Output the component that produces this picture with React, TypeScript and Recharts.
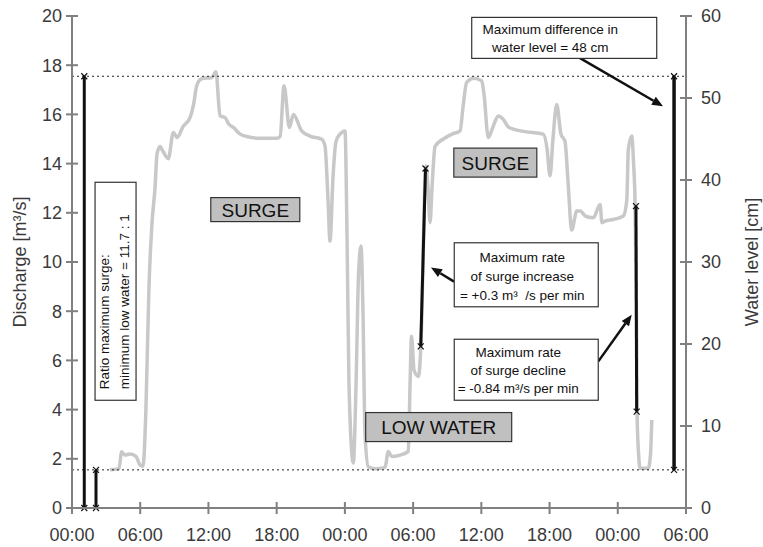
import React from 'react';
import { ComposedChart, Line, XAxis, YAxis, ReferenceLine, ReferenceDot, Label } from 'recharts';

const FONT = '"Liberation Sans", Arial, sans-serif';
const AXIS_GREY = '#808080';
const TEXT_GREY = '#3a3a3a';
const FLOW_GREY = '#c8c8c8';

// time axis in hours since the first midnight
const hourTicks = [0, 6, 12, 18, 24, 30, 36, 42, 48, 54];
const clockLabels = ['00:00', '06:00', '12:00', '18:00', '00:00', '06:00', '12:00', '18:00', '00:00', '06:00'];
const dischargeTicks = [0, 2, 4, 6, 8, 10, 12, 14, 16, 18, 20];
const levelTicks = [0, 10, 20, 30, 40, 50, 60];

// discharge record [m3/s]
const hours = [
  3.34, 4.13, 4.37, 4.66, 5.1, 5.63, 5.98, 6.24, 6.5, 6.77, 7.04, 7.3, 7.48, 7.74, 8.0, 8.47, 8.91, 9.26,
  9.76, 10.38, 10.73, 10.96, 11.4, 12.29, 12.66, 13.02, 13.46, 13.8, 14.19, 14.78, 15.36, 16.53, 18.0,
  18.3, 18.65, 19.12, 19.47, 20.2, 20.93, 21.96, 22.25, 22.52, 22.69, 22.96, 23.22, 23.57, 24.01, 24.19,
  24.36, 24.74, 24.98, 25.2, 25.42, 25.59, 25.77, 26.06, 26.65, 27.53, 27.82, 28.12, 28.85, 29.58, 29.73,
  29.86, 30.08, 30.46, 30.75, 30.96, 31.13, 31.31, 31.49, 31.66, 31.93, 32.66, 33.42, 34.13, 34.39, 34.71,
  35.3, 36.03, 36.24, 36.61, 37.03, 37.49, 37.93, 38.35, 38.81, 39.84, 41.45, 41.78, 42.04, 42.3, 42.63,
  43.0, 43.36, 43.62, 43.95, 44.39, 44.68, 45.21, 45.85, 46.44, 46.61, 46.88, 47.61, 48.49, 48.79, 48.93,
  49.23, 49.39, 49.52, 49.65, 49.7, 49.83, 49.96, 50.69, 50.88, 50.99,
];
const discharge = [
  1.55, 1.6, 2.29, 2.15, 2.2, 2.1, 1.75, 1.7, 4.0, 9.0, 11.6, 13.0, 14.4, 14.7, 14.5, 14.2, 15.26, 15.06,
  15.5, 15.87, 16.5, 17.16, 17.45, 17.5, 17.73, 15.94, 15.87, 15.6, 15.47, 15.2, 15.1, 15.03, 15.03,
  15.1, 17.16, 15.47, 16.0, 15.33, 15.12, 14.99, 14.72, 12.5, 10.85, 13.5, 14.9, 15.2, 15.33, 11.0,
  5.0, 1.83, 5.0, 9.5, 10.65, 8.0, 3.0, 1.68, 1.6, 1.65, 2.3, 2.09, 2.15, 2.3, 5.0,
  6.98, 5.6, 5.35, 7.5, 12.0, 13.9, 13.0, 11.6, 13.0, 14.7, 15.0, 15.2, 15.33, 16.3, 17.3,
  17.47, 17.37, 16.8, 15.06, 15.5, 15.94, 15.8, 15.5, 15.4, 15.3, 15.2, 14.6, 13.5, 15.0, 16.4,
  15.2, 14.9, 13.3, 11.3, 12.07, 12.07, 11.85, 11.8, 12.34, 11.6, 11.66, 11.73, 11.87, 12.5, 14.58,
  15.12, 14.0, 12.4, 7.5, 3.8, 2.2, 1.62, 1.62, 2.2, 3.58,
];

const maxSurge = 17.55;
const minLowWater = 1.55;

// water level range, lowest to highest [cm] (difference 48 cm)
const levelSpanHours = [52.95, 52.95];
const levelSpan = [4.65, 52.65];

// measured spans [hour, discharge]: ratio bars, surge rise, surge decline
const spanStart = [[1.08, 0], [2.11, 0], [30.67, 6.57], [49.6, 12.27]];
const spanEnd = [[1.08, maxSurge], [2.11, minLowWater], [31.09, 13.8], [49.66, 3.92]];

// pointers from the notes to the spans
const pointerFrom = [[44.68, 18.29], [33.6, 9.2], [46.29, 5.96]];
const pointerTo = [[51.98, 16.33], [31.57, 9.78], [49.23, 7.86]];

const diffNote = ['Maximum difference in', 'water level = 48 cm'];
const riseNote = ['Maximum rate', 'of surge increase', '= +0.3 m³  /s per min'];
const fallNote = ['Maximum rate', 'of surge decline', '= -0.84 m³/s per min'];
const ratioNote = ['Ratio maximum surge:', 'minimum low water = 11.7 : 1'];

const rows = hours.map((hour, i) => ({ hour, discharge: discharge[i] }));
const levelRows = levelSpanHours.map((hour, i) => ({ hour, level: levelSpan[i] }));

const LeftTick = (p: any) => {
  const ax = p.x + 10;
  return (
    <g>
      <line x1={ax - 6} x2={ax + 6} y1={p.y} y2={p.y} stroke={AXIS_GREY} strokeWidth={2} />
      <text x={p.x} y={p.y} dy="0.36em" textAnchor="end" fill={TEXT_GREY} fontSize={18} fontFamily={FONT}>
        {p.payload.value}
      </text>
    </g>
  );
};

const RightTick = (p: any) => {
  const ax = p.x - 15;
  return (
    <g>
      <line x1={ax - 6} x2={ax + 6} y1={p.y} y2={p.y} stroke={AXIS_GREY} strokeWidth={2} />
      <text x={p.x} y={p.y} dy="0.36em" textAnchor="start" fill={TEXT_GREY} fontSize={18} fontFamily={FONT}>
        {p.payload.value}
      </text>
    </g>
  );
};

const TimeTick = (p: any) => {
  const ay = p.y - 10;
  const label = clockLabels[hourTicks.indexOf(p.payload.value)];
  return (
    <g>
      <line x1={p.x} x2={p.x} y1={ay - 6} y2={ay + 6} stroke={AXIS_GREY} strokeWidth={2} />
      <text x={p.x} y={ay + 33} textAnchor="middle" fill={TEXT_GREY} fontSize={18} fontFamily={FONT}>
        {label}
      </text>
    </g>
  );
};

const axisTitle = (text: string, dx: number) => (props: any) => {
  const vb = props.viewBox || {};
  const cx = vb.x + dx;
  const cy = vb.y + vb.height / 2;
  return (
    <text
      x={cx}
      y={cy}
      dy="0.35em"
      textAnchor="middle"
      transform={`rotate(-90, ${cx}, ${cy})`}
      fill={TEXT_GREY}
      fontSize={18}
      fontFamily={FONT}
    >
      {text}
    </text>
  );
};

const Cross = ({ x, y }: { x: number; y: number }) => (
  <path d={`M${x - 3},${y - 3}L${x + 3},${y + 3}M${x - 3},${y + 3}L${x + 3},${y - 3}`} stroke="#111" strokeWidth={1.2} />
);

const crossDot = (p: any) => <Cross key={p.index} x={p.cx} y={p.cy} />;

const spanShape = (p: any) => (
  <g>
    <line x1={p.x1} y1={p.y1} x2={p.x2} y2={p.y2} stroke="#111" strokeWidth={3} />
    <Cross x={p.x1} y={p.y1} />
    <Cross x={p.x2} y={p.y2} />
  </g>
);

const arrowShape = (p: any) => {
  const a = Math.atan2(p.y2 - p.y1, p.x2 - p.x1);
  const len = 11;
  const half = 4.5;
  const bx = p.x2 - len * Math.cos(a);
  const by = p.y2 - len * Math.sin(a);
  const nx = -Math.sin(a) * half;
  const ny = Math.cos(a) * half;
  return (
    <g>
      <line x1={p.x1} y1={p.y1} x2={bx} y2={by} stroke="#111" strokeWidth={2.5} />
      <path d={`M${p.x2},${p.y2}L${bx + nx},${by + ny}L${bx - nx},${by - ny}Z`} fill="#111" />
    </g>
  );
};

type BoxStyle = {
  w: number;
  h: number;
  size: number;
  fill: string;
  first: number;
  gap: number;
  shift: number;
};

const boxShape = (lines: string[], s: BoxStyle) => (p: any) => {
  const left = p.cx - s.w / 2;
  const top = p.cy - s.h / 2;
  return (
    <g>
      <rect x={left} y={top} width={s.w} height={s.h} fill={s.fill} stroke="#333" strokeWidth={1.2} />
      {lines.map((t, i) => (
        <text
          key={i}
          x={p.cx + s.shift}
          y={top + s.first + i * s.gap}
          textAnchor="middle"
          fill="#111"
          fontSize={s.size}
          fontFamily={FONT}
          style={{ whiteSpace: 'pre' }}
        >
          {t}
        </text>
      ))}
    </g>
  );
};

const ratioShape = (p: any) => {
  const w = 41;
  const h = 218;
  return (
    <g>
      <rect x={p.cx - w / 2} y={p.cy - h / 2} width={w} height={h} fill="#fff" stroke="#333" strokeWidth={1.2} />
      <g transform={`rotate(-90, ${p.cx}, ${p.cy})`}>
        {ratioNote.map((t, i) => (
          <text key={i} x={p.cx - 98} y={p.cy - 7 + i * 20} fill="#111" fontSize={13.5} fontFamily={FONT}>
            {t}
          </text>
        ))}
      </g>
    </g>
  );
};

const tagStyle = { size: 19, fill: '#c0c0c0', gap: 0, shift: 0 };
const noteStyle = { size: 13.5, fill: '#fff' };

export default function App() {
  return (
    <div style={{ position: 'absolute', left: 0, top: 0, width: 763, height: 547, background: '#fff' }}>
      <ComposedChart
        width={763}
        height={547}
        data={rows}
        margin={{ top: 16, right: 0, bottom: 0, left: 0 }}
        style={{ fontFamily: FONT }}
      >
        <XAxis
          type="number"
          dataKey="hour"
          domain={[0, 54]}
          ticks={hourTicks}
          interval={0}
          height={39}
          tickSize={6}
          tickMargin={4}
          tickLine={false}
          axisLine={{ stroke: AXIS_GREY, strokeWidth: 2 }}
          tick={<TimeTick />}
        />
        <YAxis
          yAxisId="q"
          type="number"
          domain={[0, 20]}
          ticks={dischargeTicks}
          interval={0}
          width={72}
          tickSize={6}
          tickMargin={4}
          tickLine={false}
          axisLine={{ stroke: AXIS_GREY, strokeWidth: 2 }}
          tick={<LeftTick />}
        >
          <Label content={axisTitle('Discharge [m³/s]', 20)} />
        </YAxis>
        <YAxis
          yAxisId="wl"
          type="number"
          orientation="right"
          domain={[0, 60]}
          ticks={levelTicks}
          interval={0}
          width={77}
          tickSize={6}
          tickMargin={9}
          tickLine={false}
          axisLine={{ stroke: AXIS_GREY, strokeWidth: 2 }}
          tick={<RightTick />}
        >
          <Label content={axisTitle('Water level [cm]', 66)} />
        </YAxis>

        <Line
          yAxisId="q"
          type="monotoneX"
          dataKey="discharge"
          stroke={FLOW_GREY}
          strokeWidth={3.5}
          dot={false}
          activeDot={false}
          isAnimationActive={false}
        />

        <ReferenceLine yAxisId="q" y={maxSurge} stroke="#222" strokeDasharray="2 3" strokeWidth={1} />
        <ReferenceLine yAxisId="q" y={minLowWater} stroke="#222" strokeDasharray="2 3" strokeWidth={1} />

        <Line
          yAxisId="wl"
          data={levelRows}
          dataKey="level"
          type="linear"
          stroke="#111"
          strokeWidth={3.5}
          dot={crossDot}
          activeDot={false}
          isAnimationActive={false}
        />

        {spanStart.map((s, i) => (
          <ReferenceLine
            key={`span-${i}`}
            yAxisId="q"
            segment={[
              { x: s[0], y: s[1] },
              { x: spanEnd[i][0], y: spanEnd[i][1] },
            ]}
            shape={spanShape}
          />
        ))}

        {pointerFrom.map((s, i) => (
          <ReferenceLine
            key={`ptr-${i}`}
            yAxisId="q"
            segment={[
              { x: s[0], y: s[1] },
              { x: pointerTo[i][0], y: pointerTo[i][1] },
            ]}
            shape={arrowShape}
          />
        ))}

        <ReferenceDot yAxisId="q" x={16.12} y={12.13} shape={boxShape(['SURGE'], { ...tagStyle, w: 89, h: 24, first: 19 })} />
        <ReferenceDot yAxisId="q" x={37.23} y={14.04} shape={boxShape(['SURGE'], { ...tagStyle, w: 83, h: 29, first: 21.5 })} />
        <ReferenceDot yAxisId="q" x={32.25} y={3.29} shape={boxShape(['LOW WATER'], { ...tagStyle, w: 146, h: 29, first: 21.5 })} />
        <ReferenceDot
          yAxisId="q"
          x={43.29}
          y={19.11}
          shape={boxShape(diffNote, { ...noteStyle, w: 185, h: 41, first: 16.7, gap: 18, shift: -14 })}
        />
        <ReferenceDot
          yAxisId="q"
          x={39.95}
          y={9.48}
          shape={boxShape(riseNote, { ...noteStyle, w: 144, h: 64, first: 19.7, gap: 19, shift: -4 })}
        />
        <ReferenceDot
          yAxisId="q"
          x={39.95}
          y={5.62}
          shape={boxShape(fallNote, { ...noteStyle, w: 144, h: 61, first: 17.4, gap: 18.3, shift: -8 })}
        />
        <ReferenceDot yAxisId="q" x={3.83} y={8.81} shape={ratioShape} />
      </ComposedChart>
    </div>
  );
}
